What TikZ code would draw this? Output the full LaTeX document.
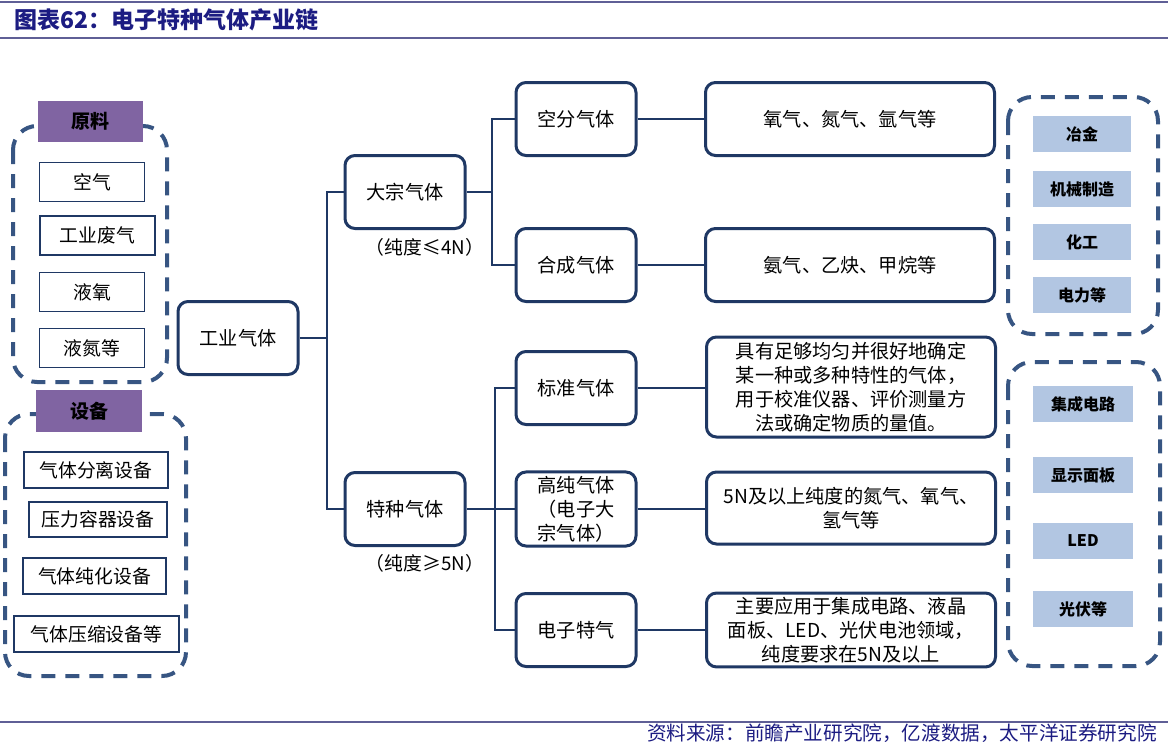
\documentclass[tikz,border=0pt]{standalone}
\usepackage{fontspec}
\setmainfont{Noto Sans CJK SC}
\usepackage{tikz}
\usetikzlibrary{calc}
\definecolor{boxblue}{RGB}{31,56,100}
\definecolor{dashblue}{RGB}{55,85,130}
\definecolor{headpurple}{RGB}{128,100,162}
\definecolor{paleblue}{RGB}{178,198,226}
\definecolor{titleblue}{RGB}{28,28,130}
\definecolor{ruleblue}{RGB}{95,95,150}
\newcommand{\drawgroup}{\draw[draw=dashblue, line width=2pt, dash pattern=on 7pt off 5pt, rounded corners=12pt]}

\tikzset{
    mainbox/.style={draw=boxblue, line width=1.5pt, rounded corners=5pt, fill=white,
        minimum width=60pt, minimum height=36.5pt, align=center, inner sep=2pt,
        font=\fontsize{9.6}{12}\selectfont},
    descbox/.style={mainbox, minimum width=144.5pt},
    itembox/.style={draw=boxblue, line width=0.6pt, fill=white, minimum height=19.5pt,
        inner sep=1pt, font=\fontsize{9.4}{11}\selectfont},
    headbox/.style={fill=headpurple, minimum width=52.5pt, minimum height=20.5pt,
        inner sep=1pt, font=\fontsize{9.5}{11}\selectfont\bfseries},
    appbox/.style={fill=paleblue, minimum width=49pt, minimum height=18pt,
        inner sep=1pt, font=\fontsize{8}{10}\selectfont\bfseries},
    link/.style={draw=boxblue, line width=1pt},
    note/.style={font=\fontsize{9.4}{11}\selectfont}
}

\begin{document}
\begin{tikzpicture}[x=0.5pt, y=-0.5pt]
    \useasboundingbox (0,0) rectangle (1168,744);

    % Title and rules
    \draw[ruleblue, line width=1pt] (0,2) -- (1168,2);
    \draw[ruleblue, line width=1pt] (0,38) -- (1168,38);
    \draw[ruleblue, line width=1pt] (0,722) -- (1168,722);
    \node[anchor=west, inner sep=0pt, text=titleblue, font=\fontsize{11.5}{13}\selectfont\bfseries]
        (title) at (14,20) {图表62：电子特种气体产业链};
    \node[anchor=east, inner sep=0pt, text=titleblue, font=\fontsize{9.8}{11}\selectfont]
        (source) at (1157,733) {资料来源：前瞻产业研究院，亿渡数据，太平洋证券研究院};

    % Raw materials
    \drawgroup (13,126) rectangle (167,382);
    \node[headbox] (rawhead) at (90,121) {原料};
    \node[itembox, minimum width=52.5pt] (air) at (92,182) {空气};
    \node[itembox, minimum width=57.5pt] (waste) at (97.5,235.5) {工业废气};
    \node[itembox, minimum width=52.5pt] (lox) at (92,292) {液氧};
    \node[itembox, minimum width=52.5pt] (lin) at (92,348) {液氮等};

    % Equipment
    \drawgroup (5,414) rectangle (186,676);
    \node[headbox, minimum width=53pt, minimum height=21pt] (eqhead) at (89,411) {设备};
    \node[itembox, minimum width=72pt, minimum height=18pt] (sep) at (96,470) {气体分离设备};
    \node[itembox, minimum width=69pt, minimum height=17.5pt] (vessel) at (98,519.5) {压力容器设备};
    \node[itembox, minimum width=71.5pt, minimum height=18pt] (purify) at (94.5,576) {气体纯化设备};
    \node[itembox, minimum width=82.5pt, minimum height=18pt] (compress) at (96.5,634) {气体压缩设备等};

    % Gas tree
    \node[mainbox] (gy) at (238,338) {工业气体};
    \node[mainbox] (dz) at (405,192) {大宗气体};
    \node[note] (dzl) at (425,247) {（纯度≤4N）};
    \node[mainbox] (tz) at (405,509) {特种气体};
    \node[note] (tzl) at (425,563) {（纯度≥5N）};

    \node[mainbox] (kf) at (576,119) {空分气体};
    \node[mainbox] (hc) at (576,265) {合成气体};
    \node[mainbox] (bz) at (576,388) {标准气体};
    \node[mainbox] (gc) at (576,509) {高纯气体\\（电子大\\宗气体）};
    \node[mainbox] (dt) at (576,630) {电子特气};

    \node[descbox] (d1) at (850,119) {氧气、氮气、氩气等};
    \node[descbox] (d2) at (850,265) {氨气、乙炔、甲烷等};
    \node[descbox, minimum height=50pt] (d3) at (851,387)
        {具有足够均匀并很好地确定\\某一种或多种特性的气体，\\用于校准仪器、评价测量方\\法或确定物质的量值。};
    \node[descbox, minimum height=36pt] (d4) at (851,508) {5N及以上纯度的氮气、氧气、\\氢气等};
    \node[descbox] (d5) at (851,630) {主要应用于集成电路、液晶\\面板、LED、光伏电池领域，\\纯度要求在5N及以上};

    % Connectors
    \draw[link] (gy.east) -- ++(27,0) coordinate (j1);
    \draw[link] (dz.west) -| (j1) |- (tz.west);
    \draw[link] (dz.east) -- ++(25,0) coordinate (j2);
    \draw[link] (kf.west) -| (j2) |- (hc.west);
    \draw[link] (tz.east) -- ++(28,0) coordinate (j3);
    \draw[link] (bz.west) -| (j3) |- (dt.west);
    \draw[link] (j3) -- (gc.west);
    \foreach \a/\b in {kf/d1, hc/d2, bz/d3, gc/d4, dt/d5} {
        \draw[link] (\a.east) -- (\a.east -| \b.west);
    }

    % Applications
    \drawgroup (1008,97) rectangle (1158,334);
    \node[appbox] (metal) at (1082,134) {冶金};
    \node[appbox] (machine) at (1082,189) {机械制造};
    \node[appbox] (chem) at (1082,242) {化工};
    \node[appbox] (power) at (1082,295) {电力等};

    \drawgroup (1008,362) rectangle (1160,666);
    \node[appbox, minimum width=50pt] (ic) at (1083,404) {集成电路};
    \node[appbox, minimum width=50pt] (panel) at (1083,475) {显示面板};
    \node[appbox, minimum width=50pt] (led) at (1083,541) {LED};
    \node[appbox, minimum width=50pt] (pv) at (1083,609) {光伏等};
\end{tikzpicture}
\end{document}
